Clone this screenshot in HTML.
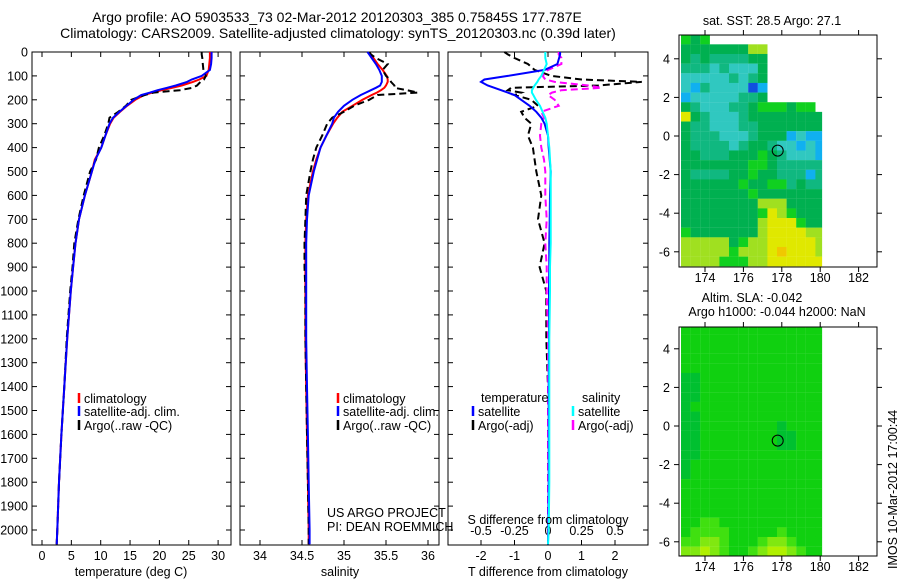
<!DOCTYPE html>
<html><head><meta charset="utf-8"><style>
body{margin:0;background:#fff;}
svg{display:block;font-family:"Liberation Sans",sans-serif;}
text{font-size:12.5px;fill:#000;}
</style></head><body>
<svg id="fig" width="900" height="580" viewBox="0 0 900 580" xmlns="http://www.w3.org/2000/svg">
<rect width="900" height="580" fill="#fff"/>
<text x="337" y="22" text-anchor="middle" style="font-size:14px">Argo profile: AO 5903533_73 02-Mar-2012 20120303_385 0.75845S 177.787E</text>
<text x="338" y="38" text-anchor="middle" style="font-size:14px">Climatology: CARS2009. Satellite-adjusted climatology: synTS_20120303.nc (0.39d later)</text>
<g id="g"></g>
</svg>
<script>
const depths=[0,10,25,50,75,100,115,125,140,150,160,170,180,200,225,250,275,300,350,400,450,500,600,700,800,900,1000,1200,1400,1600,1800,2000,2060];
const tClim=[28.6,28.6,28.6,28.5,28.4,28.0,26.8,25.7,23.8,22.2,20.4,18.8,17.4,15.9,14.5,13.3,12.2,11.6,10.8,10.1,9.0,8.5,7.3,6.3,5.7,5.3,4.9,4.3,3.8,3.3,2.9,2.6,2.5];
const tSat=[28.9,28.9,28.9,28.8,28.6,27.2,25.5,24.7,22.8,21.3,19.7,18.4,16.9,15.6,14.4,13.2,12.1,11.5,10.8,10.1,9.1,8.5,7.3,6.3,5.7,5.3,4.9,4.3,3.8,3.3,2.9,2.6,2.5];
const tArgo=[27.2,27.2,27.3,27.4,27.5,27.9,27.6,27.0,26.4,25.6,23.5,19.0,17.5,15.2,14.3,13.0,11.5,11.3,10.6,9.7,9.2,8.2,7.1,6.2,5.5,5.2,4.8,4.2,3.8,3.3,2.9,2.6,2.5];
const sClim=[35.3,35.32,35.35,35.4,35.46,35.51,35.52,35.52,35.5,35.48,35.44,35.39,35.33,35.22,35.1,34.98,34.92,34.87,34.79,34.72,34.67,34.63,34.57,34.55,34.54,34.54,34.54,34.54,34.55,34.56,34.57,34.58,34.58];
const sSat=[35.28,35.3,35.33,35.38,35.42,35.45,35.45,35.45,35.43,35.38,35.32,35.26,35.2,35.1,35.0,34.93,34.88,34.86,34.79,34.72,34.68,34.64,34.58,34.56,34.55,34.55,34.55,34.55,34.56,34.57,34.58,34.59,34.59];
const sArgo=[35.3,35.32,35.38,35.52,35.46,35.5,35.55,35.56,35.6,35.6,35.75,35.88,35.4,35.3,35.12,35.0,34.86,34.8,34.74,34.67,34.63,34.6,34.55,34.54,34.53,34.53,34.54,34.54,34.55,34.56,34.57,34.58,34.58];
const dTSat=[0.36,0.36,0.33,0.28,-0.1,-1.2,-1.9,-2.0,-1.8,-1.6,-1.4,-1.2,-1.0,-0.8,-0.55,-0.35,-0.2,-0.1,0,0.02,0.05,0.08,0.06,0.05,0.04,0.04,0.03,0.03,0.02,0.02,0.02,0.01,0];
const dTArgo=[-1.3,-1.2,-1.0,-0.6,-0.4,0.1,1.0,2.8,1.5,-1.1,-1.2,-0.8,-1.0,-0.5,-0.3,-0.8,-0.7,-0.5,-0.6,-0.45,-0.4,-0.35,-0.2,-0.3,-0.1,-0.25,-0.05,-0.05,0,0,0,0,0];
const dSSat=[-0.02,-0.02,-0.02,-0.01,-0.03,-0.05,-0.07,-0.08,-0.1,-0.11,-0.12,-0.12,-0.11,-0.09,-0.06,-0.04,-0.02,-0.01,0,0.01,0.015,0.02,0.02,0.02,0.02,0.015,0.015,0.01,0.01,0.01,0.01,0.005,0];
const dSArgo=[0.08,0.08,0.1,0.1,0.0,-0.04,-0.02,0.05,0.3,0.4,0.1,0.03,0.0,0.05,0.08,-0.05,-0.03,-0.05,-0.06,-0.05,-0.03,-0.02,-0.02,-0.01,-0.02,-0.01,-0.01,0,0,0,0,0,0];
const depthTicks=[0,100,200,300,400,500,600,700,800,900,1000,1100,1200,1300,1400,1500,1600,1700,1800,1900,2000];
const tTicks=[0,5,10,15,20,25,30];
const sTicks=[34,34.5,35,35.5,36];
const dTTicks=[-2,-1,0,1,2];
const dSTicks=["-0.5","-0.25","0","0.25","0.5"];
const sstRows=["545............","444444466......","434333344......","333232224......","222223234......","213222201......","122222334......","43222334555455.","743222344444444","433222334444444","433322234441211","433332344322121","443334445432221","444444455433333","433334454433313","444444544553433","444444454444444","444444446664444","444444445765444","444444446777544","544444446777766","666664566777776","666665666787776","666655566777777"];
const slaRows=["111111111111111","111111111111111","111111111111111","111111111111111","111111111111111","001111111111111","001111111111111","001111111111111","011111111111111","001111111111111","001111111101111","001111111100111","001111111100111","001111111111111","011111111111111","011111111111111","111111111111111","111111111111111","111111111111111","111111111111111","112211111111111","122221111121111","223321112332111","334321123443211"];
const argoLon=177.787, argoLat=-0.758;

const NS="http://www.w3.org/2000/svg";
const G=document.getElementById('g');
function el(tag,attrs,parent){const e=document.createElementNS(NS,tag);for(const k in attrs)e.setAttribute(k,attrs[k]);(parent||G).appendChild(e);return e;}
function txt(x,y,s,anchor,parent){const t=el('text',{x:x,y:y,'text-anchor':anchor||'middle'},parent);t.textContent=s;return t;}
const yD=d=>52+d*0.239;
const xT=v=>42+v*5.87;
const xS=v=>260+(v-34)*84;
const xdT=v=>548+v*33.5;
const xdS=v=>548+v*134;
const P1={x0:32,x1:231},P2={x0:240,x1:439},P3={x0:448,x1:648};
const Y0=52,Y1=545;

function frame(p,name){
  const r=el('rect',{x:p.x0,y:Y0,width:p.x1-p.x0,height:Y1-Y0,fill:'none',stroke:'#000','stroke-width':1});
  
  
  depthTicks.forEach(d=>{const y=yD(d);el('line',{x1:p.x0,x2:p.x0+5,y1:y,y2:y,stroke:'#000'});el('line',{x1:p.x1-5,x2:p.x1,y1:y,y2:y,stroke:'#000'});});
}
function xticks(p,ticks,fx,labels,name){
  const g=el('g',{});
  
  
  ticks.forEach((v,i)=>{const x=fx(v);el('line',{x1:x,x2:x,y1:Y1,y2:Y1-5,stroke:'#000'},g);el('line',{x1:x,x2:x,y1:Y0,y2:Y0+5,stroke:'#000'},g);txt(x,560,labels?labels[i]:String(v),'middle',g);});
}
function series(vals,fx,color,dash,name,w){
  const pts=vals.map((v,i)=>fx(v).toFixed(1)+','+yD(depths[i]).toFixed(1)).join(' ');
  const a={points:pts,fill:'none',stroke:color,'stroke-width':w||2};
  if(dash)a['stroke-dasharray']=dash;
  const l=el('polyline',a);
  
  
}
// depth labels
const dl=el('g',{});


depthTicks.forEach(d=>txt(28,yD(d)+4.5,String(d),'end',dl));

frame(P1,'temperature-panel');frame(P2,'salinity-panel');frame(P3,'difference-panel');
xticks(P1,tTicks,xT,null,'temperature-x-ticks');
xticks(P2,sTicks,xS,null,'salinity-x-ticks');
xticks(P3,dTTicks,xdT,null,'t-difference-x-ticks');
const sl=el('g',{});


dSTicks.forEach(s=>txt(xdS(parseFloat(s)),535,s,'middle',sl));

series(tClim,xT,'#f00',null,'temperature-climatology-line');
series(tArgo,xT,'#000','7,4','temperature-argo-line');
series(tSat,xT,'#00f',null,'temperature-satellite-line');
series(sClim,xS,'#f00',null,'salinity-climatology-line');
series(sArgo,xS,'#000','7,4','salinity-argo-line');
series(sSat,xS,'#00f',null,'salinity-satellite-line');
series(dTArgo,xdT,'#000','7,4','t-difference-argo-line');
series(dSArgo,xdS,'#f0f','7,4','s-difference-argo-line');
series(dTSat,xdT,'#00f',null,'t-difference-satellite-line');
series(dSSat,xdS,'#0ff',null,'s-difference-satellite-line');

function legendEntry(x,y,color,label,name){
  const g=el('g',{});
  
  
  el('line',{x1:x,x2:x,y1:y-10,y2:y,stroke:color,'stroke-width':2.5},g);
  txt(x+5,y,label,'start',g);
}
legendEntry(79,403,'#f00','climatology','legend-climatology');
legendEntry(79,416,'#00f','satellite-adj. clim.','legend-satellite-adj');
legendEntry(79,430,'#000','Argo(..raw -QC)','legend-argo');
legendEntry(338,403,'#f00','climatology','legend2-climatology');
legendEntry(338,416,'#00f','satellite-adj. clim.','legend2-satellite-adj');
legendEntry(338,430,'#000','Argo(..raw -QC)','legend2-argo');
txt(481,402,'temperature','start');
txt(582,402,'salinity','start');
legendEntry(473,416,'#00f','satellite','legend-t-satellite');
legendEntry(473,430,'#000','Argo(-adj)','legend-t-argo');
legendEntry(573,416,'#0ff','satellite','legend-s-satellite');
legendEntry(573,430,'#f0f','Argo(-adj)','legend-s-argo');
txt(327,517,'US ARGO PROJECT','start');
txt(327,531,'PI: DEAN ROEMMICH','start');
txt(548,524,'S difference from climatology','middle');
txt(131,576,'temperature (deg C)');
txt(340,576,'salinity');
txt(548,576,'T difference from climatology');

// maps
const lonX=l=>705+(l-174)*19.2;
const sstPal={"0":"#1050e0","1":"#10b0f0","2":"#30c8c0","3":"#10b880","4":"#00b050","5":"#10d020","6":"#a0e020","7":"#e0e800","8":"#f0c800"};
const slaPal={"0":"#00c030","1":"#10d010","2":"#40e010","3":"#80e810","4":"#b0f000"};
function map(rows,pal,top,bot,latY,name,title1,title2){
  const g=el('g',{});
  
  
  const cp=el('clipPath',{id:name+'-clip'},g);
  el('rect',{x:679,y:top,width:lonX(180.1)-679,height:bot-top},cp);
  const cg=el('g',{'clip-path':'url(#'+name+'-clip)'},g);
  rows.forEach((r,i)=>{const lat=5.25-i*0.5;[...r].forEach((c,j)=>{if(c==='.')return;const lon=172.75+j*0.5;
    const cell=el('rect',{x:lonX(lon),y:latY(lat),width:9.7,height:9.75,fill:pal[c]},cg);
    
    });});
  const c=el('circle',{cx:lonX(argoLon),cy:latY(argoLat),r:5.5,fill:'none',stroke:'#000','stroke-width':1},g);
  
  
  el('rect',{x:679,y:top,width:198,height:bot-top,fill:'none',stroke:'#000'},g);
  [174,176,178,180,182].forEach(l=>{const x=lonX(l);el('line',{x1:x,x2:x,y1:top,y2:top-5,stroke:'#000'},g);el('line',{x1:x,x2:x,y1:bot,y2:bot+5,stroke:'#000'},g);txt(x,bot+15,String(l),'middle',g);});
  [4,2,0,-2,-4,-6].forEach(l=>{const y=latY(l);el('line',{x1:679,x2:674,y1:y,y2:y,stroke:'#000'},g);el('line',{x1:877,x2:882,y1:y,y2:y,stroke:'#000'},g);txt(670,y+4.5,String(l),'end',g);});
}
map(sstRows,sstPal,35,267,l=>136-l*19.3,'sst-map');
map(slaRows,slaPal,327,556,l=>426-l*19.3,'sla-map');
txt(772,25,'sat. SST: 28.5 Argo: 27.1');
txt(752,302,'Altim. SLA: -0.042');
txt(777,316,'Argo h1000: -0.044 h2000: NaN');
const r=txt(0,0,'IMOS 10-Mar-2012 17:00:44','start');
r.setAttribute('transform','translate(897,569) rotate(-90)');


</script>
</body></html>
